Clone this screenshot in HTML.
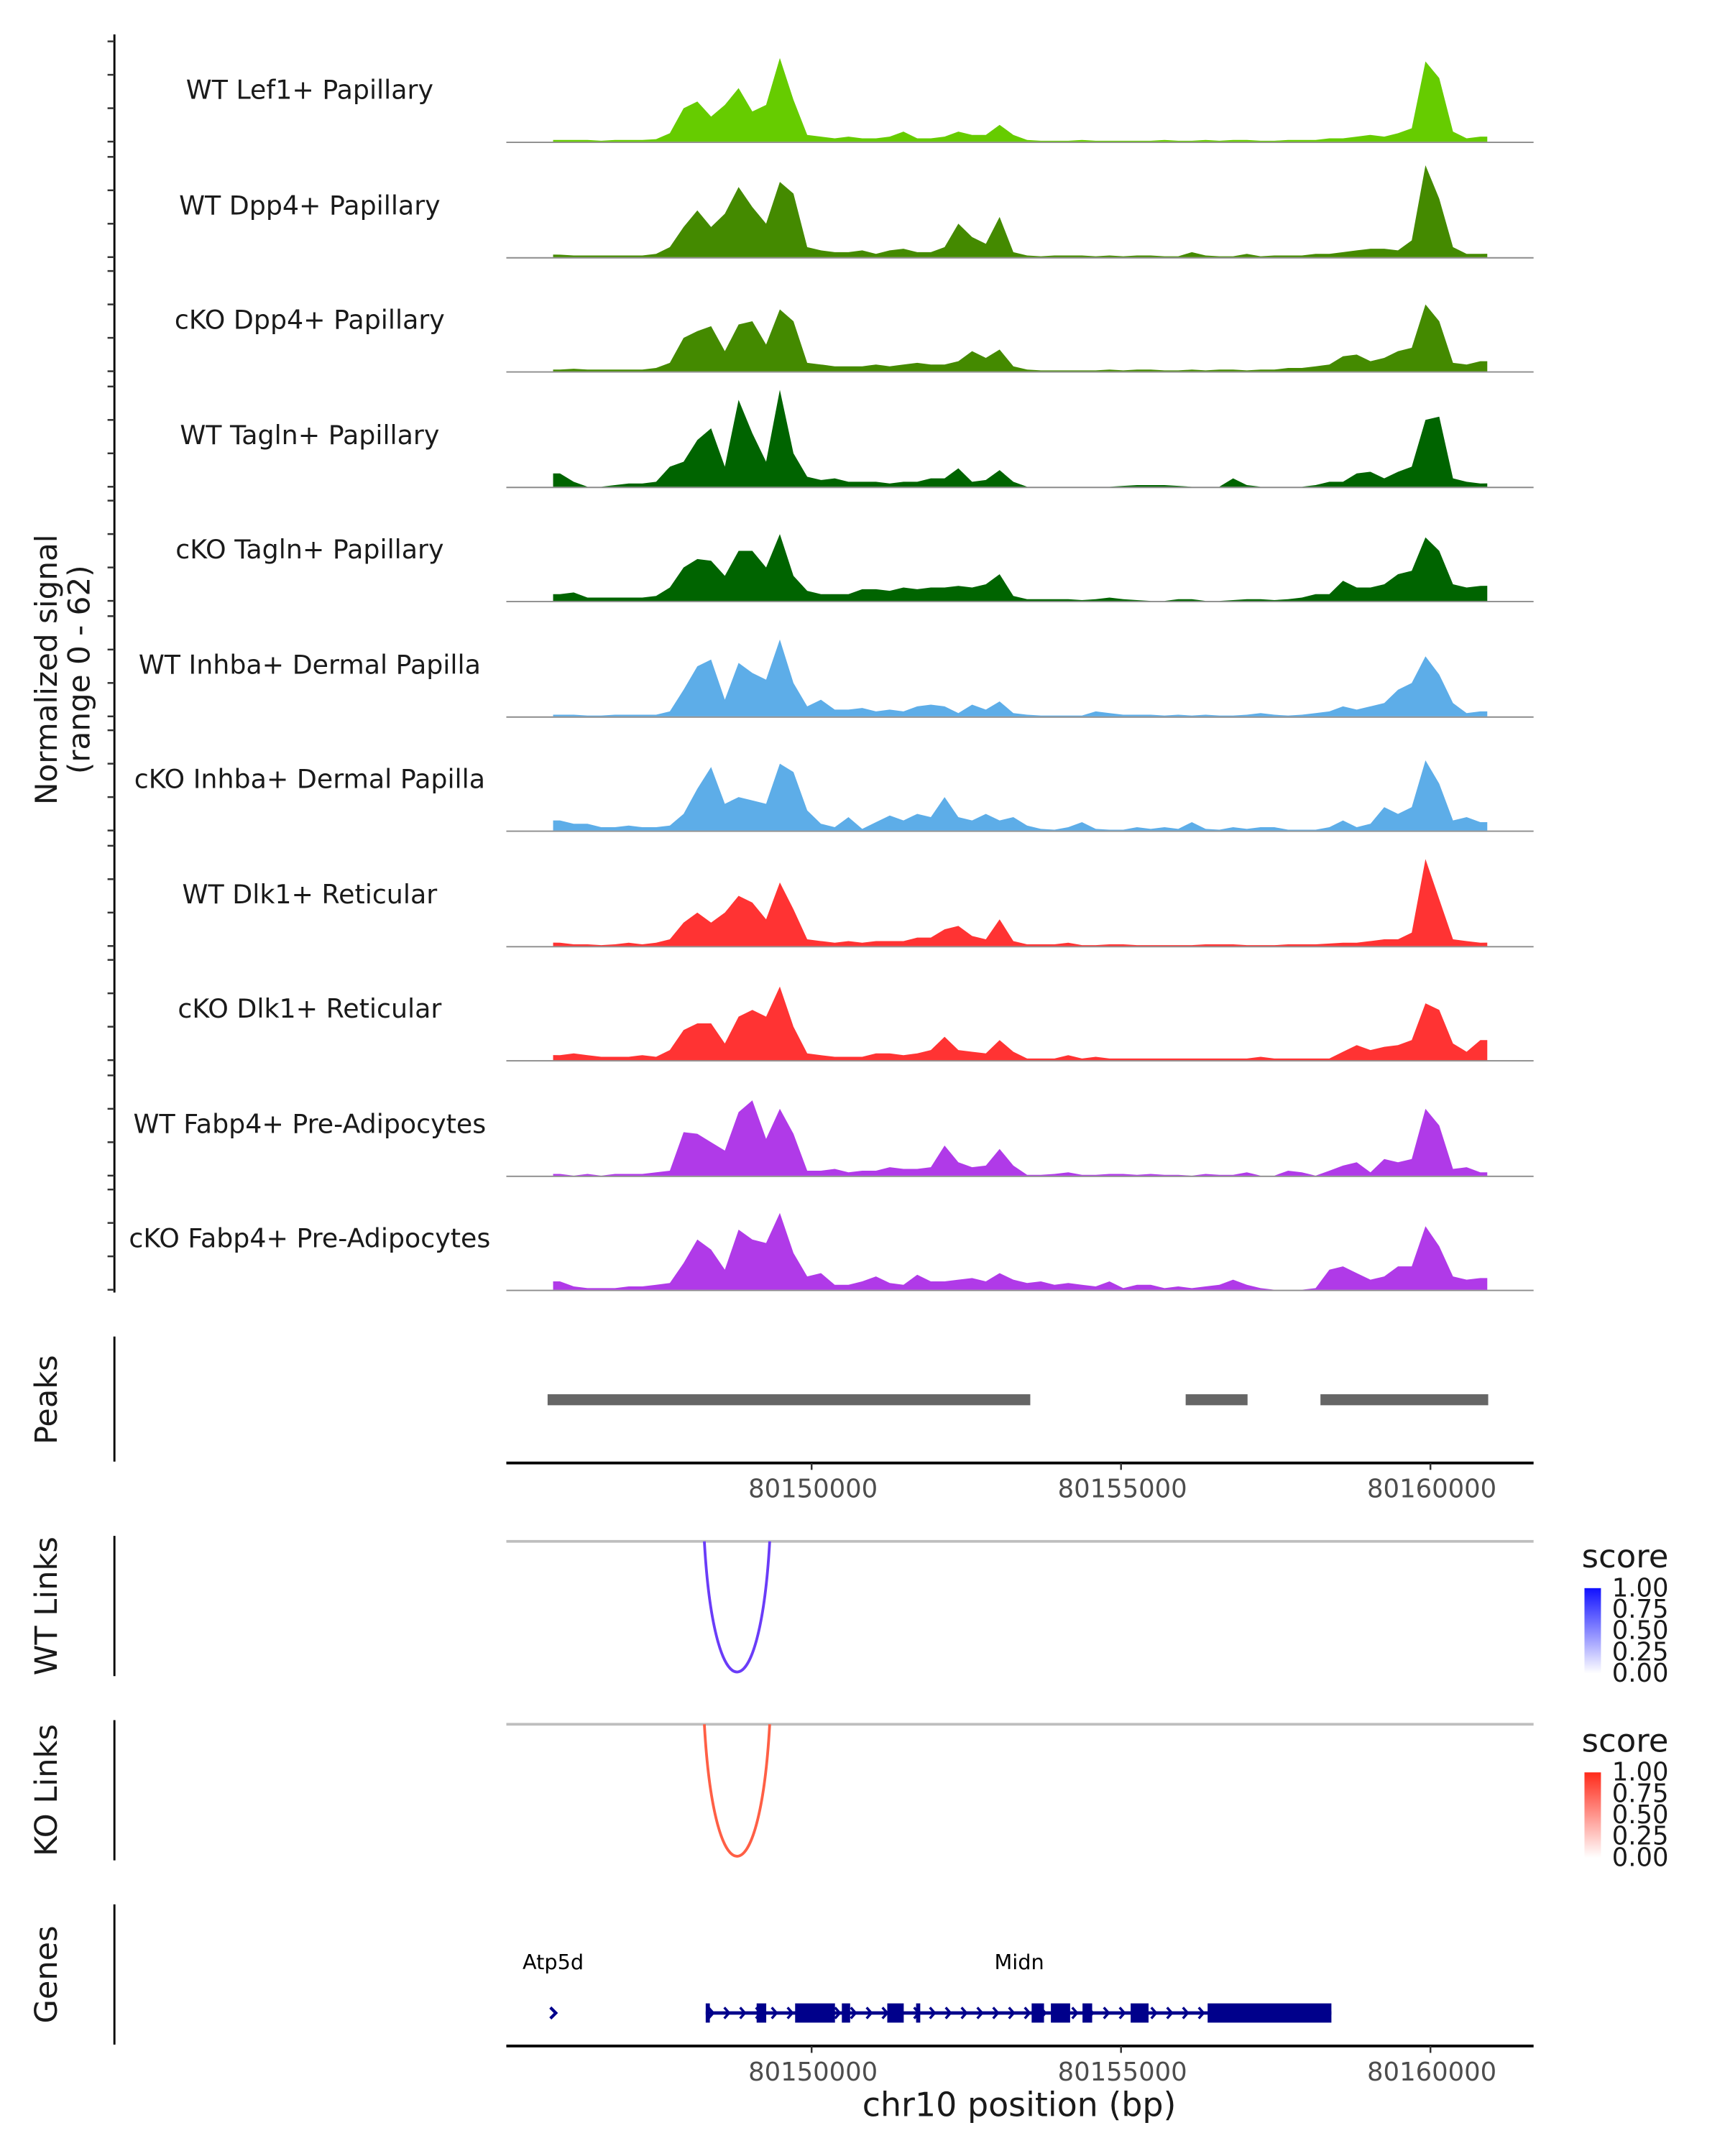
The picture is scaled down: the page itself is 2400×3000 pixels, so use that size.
<!DOCTYPE html>
<html><head><meta charset="utf-8"><style>
html,body{margin:0;padding:0;background:#fff}
svg{display:block}
text{font-family:"DejaVu Sans","Liberation Sans",sans-serif}
</style></head><body>
<svg id="chart" width="2400" height="3000" viewBox="0 0 1254 1568" xmlns="http://www.w3.org/2000/svg">
<g id="tracks"></g>
<g id="lower"></g>
</svg>
<script>
const trackNames = ["WT Lef1+ Papillary","WT Dpp4+ Papillary","cKO Dpp4+ Papillary","WT Tagln+ Papillary","cKO Tagln+ Papillary","WT Inhba+ Dermal Papilla","cKO Inhba+ Dermal Papilla","WT Dlk1+ Reticular","cKO Dlk1+ Reticular","WT Fabp4+ Pre-Adipocytes","cKO Fabp4+ Pre-Adipocytes"];
const trackColors = ["#66cc00","#448a00","#448a00","#006400","#006400","#5dade8","#5dade8","#ff3333","#ff3333","#b03ae8","#b03ae8"];
const binStart = 80145867;
const binWidth = 222;
const sigLef1 = [1,1,1,0.5,1,1,1,1.5, 5,20,24,15,22,32,18,22,50,25,4, 3,2,3,2,2,3,6,2,2,3,6,4,4,10,4,1, 0.5,0.5,0.5,1,0.5,0.5,0.5,0.5,0.5,1,0.5,0.5,1,0.5,1,1,0.5,0.5,1,1, 1,2,2,3,4,3,5, 8,48,38,6,2,3];
const sigDpp4WT = [1.5,1,1,1,1,1,1,2, 6,18,28,18,26,42,30,20,45,38,6, 4,3,3,4,2,4,5,3,3,6,20,12,8,24,3,1, 0.5,1,1,1,0.5,1,0.5,1,1,0.5,0.5,3,1,0.5,0.5,2,0.5,1,1,1, 2,2,3,4,5,5,4, 10,55,35,6,2,2];
const sigDpp4KO = [1,1.5,1,1,1,1,1,2, 5,20,24,27,12,28,30,16,37,30,5, 4,3,3,3,4,3,4,5,4,4,6,12,8,13,3,1, 0.5,0.5,0.5,0.5,0.5,1,0.5,1,1,0.5,0.5,1,0.5,1,1,0.5,1,1,2,2, 3,4,9,10,6,8,12, 14,40,30,5,4,6];
const sigTaglnWT = [8,3,0,0,1,2,2,3, 12,15,28,35,12,52,32,15,58,20,6, 4,5,3,3,3,2,3,3,5,5,11,3,4,10,3,0, 0,0,0,0,0,0,0.5,1,1,1,0.5,0,0,0,5,1,0,0,0,0, 1,3,3,8,9,5,9, 12,40,42,5,3,2];
const sigTaglnKO = [4,5,2,2,2,2,2,3, 8,20,25,24,15,30,30,20,40,15,6, 4,4,4,7,7,6,8,7,8,8,9,8,10,16,3,1, 1,1,1,0.5,1,2,1,0.5,0,0,1,1,0,0,0.5,1,1,0.5,1,2, 4,4,12,8,8,10,16, 18,38,30,10,8,9];
const sigInhbaWT = [1,1,0.5,0.5,1,1,1,1, 3,16,30,34,10,32,26,22,46,20,6, 10,4,4,5,3,4,3,6,7,6,2,7,4,9,2,1, 0.5,0.5,0.5,0.5,3,2,1,1,1,0.5,1,0.5,1,0.5,0.5,1,2,1,0.5,1, 2,3,6,4,6,8,16, 20,36,25,8,2,3];
const sigInhbaKO = [6,4,4,2,2,3,2,2, 3,10,25,38,16,20,18,16,40,35,12, 4,2,8,1,5,9,6,10,8,20,8,6,10,6,8,3, 1,0.5,2,5,1,0.5,0.5,2,1,2,1,5,1,0.5,2,1,2,2,0.5,0.5, 0.5,2,6,2,4,14,10, 14,42,28,6,8,5];
const sigDlk1WT = [2,1,1,0.5,1,2,1,2, 4,14,20,14,20,30,26,16,38,22,4, 3,2,3,2,3,3,3,5,5,10,12,6,4,16,3,1, 1,1,2,0.5,0.5,1,1,0.5,0.5,0.5,0.5,0.5,1,1,1,0.5,0.5,0.5,1,1, 1,1.5,2,2,3,4,4, 8,52,28,4,3,2];
const sigDlk1KO = [3,4,3,2,2,2,3,2, 6,18,22,22,10,26,30,26,44,20,4, 3,2,2,2,4,4,3,4,6,14,6,5,4,12,5,1, 1,1,3,1,2,1,1,1,1,1,1,1,1,1,1,1,2,1,1,1, 1,1,5,9,6,8,9, 12,34,30,10,5,12];
const sigFabp4WT = [1,0,1,0,1,1,1,2, 3,26,25,20,15,38,45,22,40,25,3, 3,4,2,3,3,5,4,4,5,18,8,5,6,16,6,0.5, 0.5,1,2,0.5,0.5,1,1,0.5,1,0.5,0.5,0,1,0.5,0.5,2,0,0,3,2, 0,3,6,8,2,10,8, 10,40,30,4,5,2];
const sigFabp4KO = [5,2,1,1,1,2,2,3, 4,16,30,24,12,36,30,28,46,22,8, 10,3,3,5,8,4,3,9,5,5,6,7,5,10,6,4, 5,3,4,3,2,5,1,3,3,1,2,1,2,3,6,3,1,0,0,0, 1,12,14,10,6,8,14, 14,38,26,8,6,7];
const trackSignals = [sigLef1,sigDpp4WT,sigDpp4KO,sigTaglnWT,sigTaglnKO,sigInhbaWT,sigInhbaKO,sigDlk1WT,sigDlk1KO,sigFabp4WT,sigFabp4KO];
const yTicks = [0,20,40,60];
const xTicks = [80150000,80155000,80160000];
const peakS = [80145778,80156089,80158267];
const peakE = [80153578,80157089,80160978];
const linkStart = [80148311];
const linkEnd = [80149367];
const scoreTicks = ["1.00","0.75","0.50","0.25","0.00"];
const geneExonStart = [80148333,80149156,80149778,80150533,80151267,80151733,80153600,80153911,80154422,80155200,80156444];
const geneExonEnd = [80148400,80149311,80150422,80150667,80151533,80151800,80153800,80154222,80154578,80155489,80158444];
const geneStart = 80148333;
const geneEnd = 80158444;
const atp5dPos = 80145867;

const NS='http://www.w3.org/2000/svg';
const x = bp => 588 + (bp - 80150000) * 0.045;
const yUnit = 1.215;
const baselines = [103,187,270,354,437,521,604,688,771,855,938];
function mk(tag, attrs, parent){const e=document.createElementNS(NS,tag);for(const k in attrs)e.setAttribute(k,attrs[k]);parent.appendChild(e);return e;}
const T=document.getElementById('tracks');
const L=document.getElementById('lower');

let ax=mk('line',{x1:83,y1:25,x2:83,y2:940,stroke:'#000','stroke-width':1.5},T);


let yt=mk('text',{transform:'translate(41,487) rotate(-90)','text-anchor':'middle','font-size':22,fill:'#1a1a1a'},T);


yt.innerHTML='<tspan x="0" dy="0">Normalized signal</tspan><tspan x="0" dy="24">(range 0 - 62)</tspan>';

trackSignals.forEach((sig,t)=>{
  const b=baselines[t];
  const g=mk('g',{},T);
  
  
  yTicks.forEach(v=>{
    const tk=mk('line',{x1:78,x2:83,y1:b-v*yUnit,y2:b-v*yUnit,stroke:'#333','stroke-width':1.3},g);
    
    
  });
  const bl=mk('line',{x1:368,x2:1115,y1:b+0.5,y2:b+0.5,stroke:'#8c8c8c','stroke-width':1},g);
  
  
  let pts=[];
  const x0=x(binStart), x1=x(binStart+binWidth*sig.length);
  pts.push(x0+','+b);
  pts.push(x0+','+(b-sig[0]*yUnit));
  sig.forEach((v,i)=>{pts.push(x(binStart+binWidth*(i+0.5)).toFixed(1)+','+(b-v*yUnit).toFixed(1));});
  pts.push(x1+','+(b-sig[sig.length-1]*yUnit));
  pts.push(x1+','+b);
  const area=mk('polygon',{points:pts.join(' '),fill:trackColors[t]},g);
  
  
  const lb=mk('text',{x:225,y:b-31,'text-anchor':'middle','font-size':19,fill:'#1a1a1a'},g);
  
  
  lb.textContent=trackNames[t];
});

function sideLabel(txt,cy,y1,y2,name){
  const t=mk('text',{transform:`translate(41,${cy}) rotate(-90)`,'text-anchor':'middle','font-size':22.5,fill:'#1a1a1a'},L);
  
  
  t.textContent=txt;
  const l=mk('line',{x1:83,x2:83,y1:y1,y2:y2,stroke:'#000','stroke-width':1.5},L);
  
  
}
sideLabel('Peaks',1018,972,1063,'peaks');
sideLabel('WT Links',1168,1117,1219,'wt-links');
sideLabel('KO Links',1302,1251,1353,'ko-links');
sideLabel('Genes',1436,1385,1487,'genes');

peakS.forEach((s,i)=>{
  const r=mk('rect',{x:x(s),y:1014,width:x(peakE[i])-x(s),height:8,fill:'#666666'},L);
  
  
});
function xAxis(yy,name){
  const l=mk('line',{x1:368,x2:1115,y1:yy,y2:yy,stroke:'#000','stroke-width':2},L);
  
  
  xTicks.forEach(v=>{
    const tk=mk('line',{x1:x(v)+2,x2:x(v)+2,y1:yy,y2:yy+5,stroke:'#333','stroke-width':1.3},L);
    
    
    const tl=mk('text',{x:x(v)+3,y:yy+25,'text-anchor':'middle','font-size':18.5,fill:'#4d4d4d'},L);
    
    
    tl.textContent=v;
  });
}
xAxis(1064,'peaks-x-axis');

const defs=mk('defs',{},L);
function grad(id,col){
  const g=mk('linearGradient',{id:id,x1:0,y1:0,x2:0,y2:1},defs);
  mk('stop',{offset:'0','stop-color':col},g);
  mk('stop',{offset:'1','stop-color':'#ffffff'},g);
}
grad('gb','#1010ff');grad('gr','#ff2a1a');
function links(yTop,yBot,starts,ends,col,name,gid,legY){
  const l=mk('line',{x1:368,x2:1115,y1:yTop,y2:yTop,stroke:'#bebebe','stroke-width':2},L);
  
  
  starts.forEach((s,i)=>{
    const a=x(s),b2=x(ends[i]),m=(a+b2)/2;
    const depth=(yBot-yTop)*4/3;
    const p=mk('path',{d:`M${a},${yTop} C${a+(m-a)*0.3},${yTop+depth} ${b2-(b2-m)*0.3},${yTop+depth} ${b2},${yTop}`,fill:'none',stroke:col,'stroke-width':2},L);
    
    
  });
  const st=mk('text',{x:1150,y:legY,'font-size':23.5,fill:'#1a1a1a'},L);
  
  
  st.textContent='score';
  const cb=mk('rect',{x:1152,y:legY+15,width:12,height:62,fill:`url(#${gid})`},L);
  
  
  scoreTicks.forEach((s,i)=>{
    const tl=mk('text',{x:1172,y:legY+21+i*15.5,'font-size':18.5,fill:'#1a1a1a'},L);
    
    
    tl.textContent=s;
  });
}
links(1121,1216,linkStart,linkEnd,'#6a3cf8','wt-links','gb',1140);
links(1254,1350,linkStart,linkEnd,'#ff5f45','ko-links','gr',1274);

const gc='#00008b';
const gl=mk('line',{x1:x(geneStart),x2:x(geneEnd),y1:1464,y2:1464,stroke:gc,'stroke-width':2.5},L);


geneExonStart.forEach((s,i)=>{
  const r=mk('rect',{x:x(s),y:1457,width:Math.max(2.5,x(geneExonEnd[i])-x(s)),height:14,fill:gc},L);
  
  
});
for(let cx=x(geneStart)+4; cx<x(geneExonStart[geneExonStart.length-1]); cx+=11.5){
  const c=mk('path',{d:`M${cx-2},${1460} L${cx+1.5},${1464} L${cx-2},${1468}`,fill:'none',stroke:gc,'stroke-width':1.8},L);
  
  
}
const ac=mk('path',{d:`M${x(atp5dPos)-2},1460 L${x(atp5dPos)+2},1464 L${x(atp5dPos)-2},1468`,fill:'none',stroke:gc,'stroke-width':2.2},L);


const g1=mk('text',{x:x(atp5dPos),y:1432,'text-anchor':'middle','font-size':15,fill:'#000'},L);


g1.textContent='Atp5d';
const g2=mk('text',{x:741,y:1432,'text-anchor':'middle','font-size':15,fill:'#000'},L);


g2.textContent='Midn';
xAxis(1488,'genes-x-axis');
const xt=mk('text',{x:741,y:1539,'text-anchor':'middle','font-size':24,fill:'#1a1a1a'},L);


xt.textContent='chr10 position (bp)';
</script>
</body></html>
